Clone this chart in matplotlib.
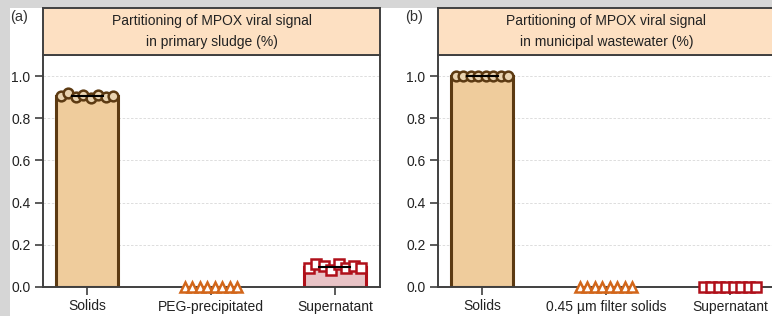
import matplotlib.pyplot as plt
from matplotlib.patches import Rectangle
import numpy as np

plt.rcParams['font.family'] = ['Liberation Sans', 'DejaVu Sans']

# panel (a): primary sludge
cats_a = ["Solids", "PEG-precipitated", "Supernatant"]
solids_a = [0.905, 0.92, 0.90, 0.91, 0.895, 0.91, 0.90, 0.905]
peg_a = [0, 0, 0, 0, 0, 0, 0, 0]
super_a = [0.09, 0.11, 0.10, 0.08, 0.11, 0.09, 0.10, 0.09]

# panel (b): municipal wastewater
cats_b = ["Solids", "0.45 µm filter solids", "Supernatant"]
solids_b = [1.0, 1.0, 1.0, 1.0, 1.0, 1.0, 1.0, 1.0]
filt_b = [0, 0, 0, 0, 0, 0, 0, 0]
super_b = [0, 0, 0, 0, 0, 0, 0, 0]

titles = ["Partitioning of MPOX viral signal\nin primary sludge (%)",
          "Partitioning of MPOX viral signal\nin municipal wastewater (%)"]

styles = [
    dict(marker="o", edge="#5c3a12", face="#efcc9c", mface="#e9d3b0"),
    dict(marker="^", edge="#d2661a", face="#f6d2b4", mface="white"),
    dict(marker="s", edge="#b0101a", face="#e8c3c6", mface="white"),
]

W, H = 772, 316
fig = plt.figure(figsize=(W / 100, H / 100), dpi=100)
fig.patch.set_facecolor("#d6d6d6")
fig.add_artist(Rectangle((10 / W, 0), 1, 1 - 8 / H, transform=fig.transFigure,
                         facecolor="white", edgecolor="none", zorder=0))


def panel(left, cats, groups, title, label, label_x):
    bottom = 1 - 287 / H
    top = 1 - 55 / H
    width = 337 / W
    ax = fig.add_axes([left, bottom, width, top - bottom])
    x = np.arange(len(cats))
    offs = np.linspace(-0.21, 0.21, 8)
    for i, (vals, st) in enumerate(zip(groups, styles)):
        m = np.mean(vals)
        if m > 0:
            ax.bar(x[i], m, width=0.5, color=st["face"], edgecolor=st["edge"],
                   linewidth=2.2, zorder=2)
            ax.plot([x[i] - 0.125, x[i] + 0.125], [m, m], color="black", lw=1.5, zorder=4)
        ax.plot(x[i] + offs, vals, linestyle="none", marker=st["marker"], ms=7,
                mfc=st["mface"], mec=st["edge"], mew=1.8, zorder=3, clip_on=False)
    ax.set_xlim(-0.355, 2.363)
    ax.set_ylim(0, 1.1)
    ax.set_yticks([0, 0.2, 0.4, 0.6, 0.8, 1.0])
    ax.set_yticklabels(["0.0", "0.2", "0.4", "0.6", "0.8", "1.0"])
    ax.set_xticks(x)
    ax.set_xticklabels(cats)
    ax.tick_params(axis="both", labelsize=10, color="#404040", length=6, width=1.2,
                   labelcolor="#222222", pad=3)
    ax.grid(axis="y", color="#d8d8d8", linestyle=(0, (3, 2)), lw=0.6)
    ax.set_axisbelow(True)
    for s in ax.spines.values():
        s.set_color("#404040")
        s.set_linewidth(1.4)
    # title box
    tb = fig.add_axes([left, top, width, (55 - 8) / H])
    tb.set_facecolor("#fde0c2")
    tb.set_xticks([])
    tb.set_yticks([])
    for s in tb.spines.values():
        s.set_color("#404040")
        s.set_linewidth(1.4)
    tb.text(0.5, 0.5, title, ha="center", va="center", fontsize=10,
            color="#222222", linespacing=1.55, transform=tb.transAxes)
    fig.text(label_x / W, 1 - 17 / H, label, fontsize=10.5, color="#333333",
             ha="left", va="center")


panel(43 / W, cats_a, [solids_a, peg_a, super_a], titles[0], "(a)", 10)
panel(438 / W, cats_b, [solids_b, filt_b, super_b], titles[1], "(b)", 405)

fig.savefig("out.png", dpi=100, facecolor=fig.get_facecolor())
